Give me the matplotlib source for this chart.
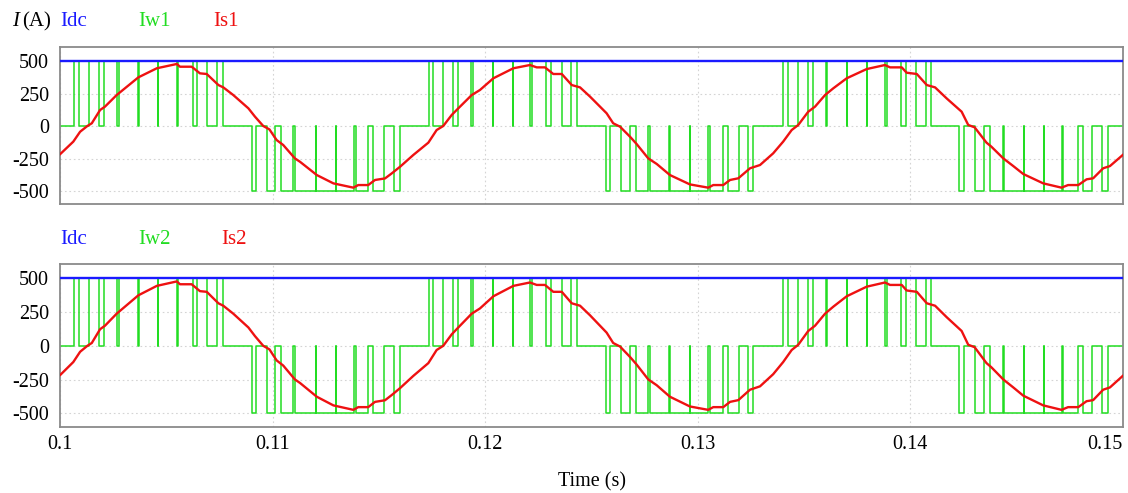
import numpy as np
import matplotlib
matplotlib.use("Agg")
import matplotlib.pyplot as plt

plt.rcParams['font.family'] = ['Liberation Serif', 'DejaVu Serif']

# dc link current (A)
idc_level = 500

# PWM pulses of Iw: start time, end time, level
iw_on = [0.10064, 0.10136, 0.10207, 0.10276, 0.10369, 0.10460, 0.10555, 0.10645, 0.10739,
         0.10901, 0.10971, 0.11037, 0.11104, 0.11205, 0.11299, 0.11392, 0.11473, 0.11570,
         0.11735, 0.11802, 0.11870, 0.11941, 0.12037, 0.12131, 0.12218, 0.12309, 0.12403,
         0.12567, 0.12637, 0.12708, 0.12775, 0.12868, 0.12965, 0.13057, 0.13144, 0.13238,
         0.13400, 0.13473, 0.13541, 0.13609, 0.13703, 0.13797, 0.13889, 0.13978, 0.14073,
         0.14229, 0.14304, 0.14375, 0.14442, 0.14537, 0.14631, 0.14720, 0.14814, 0.14904]
iw_off = [0.10088, 0.10182, 0.10265, 0.10367, 0.10458, 0.10548, 0.10623, 0.10692, 0.10764,
          0.10921, 0.11010, 0.11096, 0.11203, 0.11297, 0.11384, 0.11449, 0.11525, 0.11599,
          0.11755, 0.11847, 0.11931, 0.12035, 0.12129, 0.12210, 0.12284, 0.12360, 0.12430,
          0.12587, 0.12681, 0.12767, 0.12866, 0.12963, 0.13049, 0.13120, 0.13194, 0.13261,
          0.13423, 0.13517, 0.13602, 0.13701, 0.13795, 0.13881, 0.13955, 0.14025, 0.14096,
          0.14253, 0.14348, 0.14438, 0.14535, 0.14629, 0.14712, 0.14791, 0.14856, 0.14929]
iw_lvl = [500] * 9 + [-500] * 9 + [500] * 9 + [-500] * 9 + [500] * 9 + [-500] * 9

# grid side current Is
is_t = [0.1, 0.10061, 0.10093, 0.10127, 0.10148, 0.10187, 0.10210, 0.10265, 0.10304, 0.10367,
        0.10454, 0.10548, 0.10563, 0.10618, 0.10657, 0.10689, 0.10744, 0.10767, 0.10814, 0.10885,
        0.10916, 0.10955, 0.10984, 0.11018, 0.11049, 0.11104, 0.11128, 0.11207, 0.11285, 0.11379,
        0.11402, 0.11449, 0.11481, 0.11528, 0.11560, 0.11599,
        0.11661, 0.11732, 0.11771, 0.11802, 0.11842, 0.11873, 0.11936, 0.11975, 0.12038, 0.12132,
        0.12210, 0.12242, 0.12281, 0.12320, 0.12360, 0.12407, 0.12446, 0.12493, 0.12571, 0.12602,
        0.12634, 0.12681, 0.12712, 0.12767, 0.12807, 0.12869, 0.12963, 0.13049, 0.13073, 0.13120,
        0.13152, 0.13191, 0.13246, 0.13293,
        0.13355, 0.13402, 0.13442, 0.13473, 0.13520, 0.13552, 0.13599, 0.13638, 0.13701, 0.13795,
        0.13881, 0.13905, 0.13960, 0.13983, 0.14031, 0.14078, 0.14117, 0.14171, 0.14242, 0.14273,
        0.14303, 0.14359, 0.14382, 0.14438, 0.14485, 0.14532, 0.14626, 0.14712, 0.14743, 0.14791,
        0.14830, 0.14861, 0.14908, 0.14940, 0.15]
is_val = [-215, -120, -44, 0, 21, 123, 149, 238, 290, 374,
          444, 477, 456, 456, 405, 400, 315, 297, 238, 136,
          72, 0, -26, -108, -146, -249, -275, -377, -441, -474,
          -454, -454, -415, -403, -364, -313,
          -223, -128, -31, 0, 85, 136, 238, 277, 367, 444,
          469, 451, 451, 400, 400, 315, 297, 226, 98, 21,
          -5, -82, -138, -249, -292, -377, -449, -474, -454, -454,
          -415, -402, -325, -300,
          -210, -120, -31, 8, 110, 149, 238, 290, 367, 438,
          469, 451, 451, 410, 400, 315, 297, 213, 110, 8,
          -10, -128, -159, -249, -308, -369, -441, -474, -454, -454,
          -410, -402, -325, -308, -223]

x_ticks = [0.1, 0.11, 0.12, 0.13, 0.14, 0.15]
x_tick_labels = ['0.1', '0.11', '0.12', '0.13', '0.14', '0.15']
y_ticks = [-500, -250, 0, 250, 500]


def pulse_train(on, off, lvl, t0, t1):
    t = [t0]
    v = [0]
    for s, e, l in zip(on, off, lvl):
        t += [s, s, e, e]
        v += [0, l, l, 0]
    t.append(t1)
    v.append(0)
    return t, v


def style_axes(ax, ylim):
    ax.set_xlim(0.1, 0.15)
    ax.set_ylim(*ylim)
    ax.set_yticks(y_ticks)
    ax.set_yticklabels([str(v) for v in y_ticks])
    ax.set_xticks(x_ticks)
    ax.grid(True, color='#d4d4d4', linestyle=(0, (1.5, 2.5)), linewidth=0.8)
    ax.tick_params(length=0, labelsize=14.5, pad=8)
    for s in ax.spines.values():
        s.set_color('#8a8a8a')
        s.set_linewidth(1.3)


fig = plt.figure(figsize=(11.28, 4.93), dpi=100)
ax1 = fig.add_axes([0.0535, 0.5856, 0.9418, 0.3197])
ax2 = fig.add_axes([0.0535, 0.1339, 0.9418, 0.3306])

iw_t, iw_v = pulse_train(iw_on, iw_off, iw_lvl, 0.1, 0.15)

for ax, ylim in [(ax1, (-602, 610)), (ax2, (-601, 606))]:
    ax.plot(iw_t, iw_v, color='#22dd22', lw=1.1, zorder=2)
    ax.axhline(idc_level, color='#1a1aff', lw=1.7, zorder=3)
    ax.plot(is_t, is_val, color='#ee1111', lw=1.7, zorder=4)
    style_axes(ax, ylim)

ax1.set_xticklabels([])
ax2.set_xticklabels(x_tick_labels)
ax2.tick_params(axis='x', pad=6)
ax2.get_xticklabels()[-1].set_horizontalalignment('right')
ax2.set_xlabel('Time (s)', fontsize=14.5, labelpad=13)

# signal names above each panel
fig.text(12 / 1128, 1 - 22 / 493, 'I', fontsize=15, style='italic', va='center')
fig.text(22 / 1128, 1 - 22 / 493, '(A)', fontsize=15, va='center')
fig.text(60 / 1128, 1 - 22 / 493, 'Idc', fontsize=15, color='#1a1aff', va='center')
fig.text(138 / 1128, 1 - 22 / 493, 'Iw1', fontsize=15, color='#22dd22', va='center')
fig.text(213 / 1128, 1 - 22 / 493, 'Is1', fontsize=15, color='#ee1111', va='center')
fig.text(60 / 1128, 1 - 240 / 493, 'Idc', fontsize=15, color='#1a1aff', va='center')
fig.text(138 / 1128, 1 - 240 / 493, 'Iw2', fontsize=15, color='#22dd22', va='center')
fig.text(221 / 1128, 1 - 240 / 493, 'Is2', fontsize=15, color='#ee1111', va='center')

fig.savefig('out.png', dpi=100)
